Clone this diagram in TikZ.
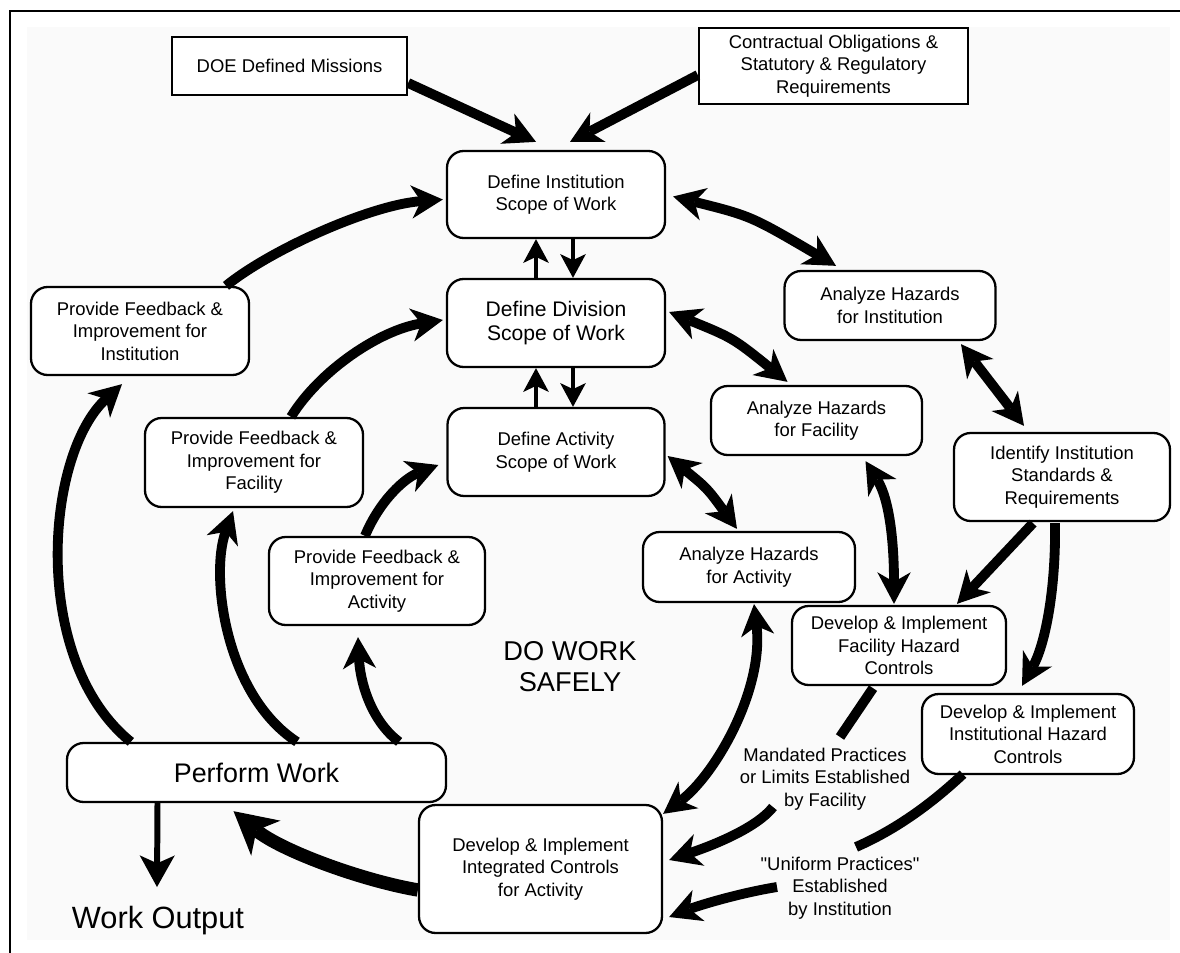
\documentclass[tikz,border=0pt]{standalone}
\usepackage{fontspec}
\setmainfont{Liberation Sans}
\newfontfamily\qfont{Liberation Sans}[Ligatures=TeXOff]
\usetikzlibrary{arrows.meta,calc}
\tikzset{
  MainTip/.tip={Stealth[length=18pt,width=19pt,inset=5.5pt,line width=0pt]},
  SmallTip/.tip={Stealth[length=13.6pt,width=14.7pt,inset=3.5pt,line width=0pt]},
  BigTip/.tip={Stealth[length=24pt,width=26pt,inset=7pt,line width=0pt]},
  OutTip/.tip={Stealth[length=18pt,width=20pt,inset=4.5pt,line width=0pt]},
  txt/.style={font=\fontsize{10.5}{12.8}\selectfont},
  box/.style={draw=black, line width=1.3pt, rounded corners=9.5pt, fill=white, align=center, inner sep=0pt, txt},
  sqbox/.style={draw=black, line width=1.3pt, fill=white, align=center, inner sep=0pt, txt},
  sz/.style 2 args={minimum width=#1*0.02cm, minimum height=#2*0.02cm},
  lbl/.style={align=center, inner sep=0pt, txt},
  arr/.style={line width=5.6pt, -MainTip},
  darr/.style={line width=5.6pt, MainTip-MainTip},
  sarr/.style={line width=2.8pt, -SmallTip},
  barr/.style={line width=7.6pt, -BigTip},
  woarr/.style={line width=3.4pt, -OutTip},
  plainline/.style={line width=5.6pt},
}
\begin{document}
\begin{tikzpicture}[x=0.02cm,y=-0.02cm]
\useasboundingbox (0,0) rectangle (1180,953);
\fill[black!2] (27,27) rectangle (1170,940);
\draw[line width=1.2pt] (10,953) -- (10,11) -- (1180,11);

% nodes
\node[sqbox,sz={235}{58}] (doe) at (289.5,66) {DOE Defined Missions};
\node[sqbox,sz={269}{76}] (contr) at (833.5,66) {Contractual Obligations \&\\Statutory \& Regulatory\\Requirements};
\node[box,sz={218}{87}] (inst) at (556,194.5) {Define Institution\\Scope of Work};
\node[box,sz={218}{88},font=\fontsize{12}{13.5}\selectfont] (div) at (556,323) {Define Division\\Scope of Work};
\node[box,sz={217}{88}] (act) at (556,452) {Define Activity\\Scope of Work};
\node[box,sz={211}{69}] (ahinst) at (890,305.5) {Analyze Hazards\\for Institution};
\node[box,sz={211}{69}] (ahfac) at (816.5,420.5) {Analyze Hazards\\for Facility};
\node[box,sz={216}{88}] (ident) at (1062,477) {Identify Institution\\Standards \&\\Requirements};
\node[box,sz={212}{70}] (ahact) at (749,567) {Analyze Hazards\\for Activity};
\node[box,sz={214}{79}] (devfac) at (899,645.5) {Develop \& Implement\\Facility Hazard\\Controls};
\node[box,sz={212}{80}] (devinst) at (1028,734) {Develop \& Implement\\Institutional Hazard\\Controls};
\node[box,sz={243}{128}] (devint) at (540.5,869) {Develop \& Implement\\Integrated Controls\\for Activity};
\node[box,sz={218}{88}] (fbinst) at (140,331) {Provide Feedback \&\\Improvement for\\Institution};
\node[box,sz={218}{89}] (fbfac) at (254,462.5) {Provide Feedback \&\\Improvement for\\Facility};
\node[box,sz={216}{88}] (fbact) at (377,581) {Provide Feedback \&\\Improvement for\\Activity};
\node[box,sz={379}{59},font=\fontsize{15.3}{18}\selectfont] (perform) at (256.5,772.5) {Perform Work};
\node[lbl,font=\fontsize{17.5}{20}\selectfont] (wout) at (158,921) {Work Output};
\node[lbl,font=\fontsize{15.5}{17.6}\selectfont] (safe) at (570,667) {DO WORK\\SAFELY};
\node[lbl] (mand) at (825,779) {Mandated Practices\\or Limits Established\\by Facility};
\node[lbl] (unif) at (840,888) {{\qfont"}Uniform Practices{\qfont"}\\Established\\by Institution};

% connectors
\draw[arr] ($(doe.east)+(0,17)$) -- ($(inst.north)+(-20,-8)$);
\draw[arr] ($(contr.west)+(0,9)$) -- ($(inst.north)+(14,-8)$);
\draw[sarr] ($(div.north)+(-20,0)$) -- ($(inst.south)+(-20,0)$);
\draw[sarr] ($(inst.south)+(17,0)$) -- ($(div.north)+(17,0)$);
\draw[sarr] ($(act.north)+(-20,0)$) -- ($(div.south)+(-20,0)$);
\draw[sarr] ($(div.south)+(17,0)$) -- ($(act.north)+(17,0)$);
\draw[darr] ($(inst.east)+(7,2)$) .. controls (751,216) .. ($(ahinst.north)+(-54,-4)$);
\draw[darr] ($(ahinst.south)+(71,3)$) -- ($(ident.north)+(-38,-6)$);
\draw[darr] ($(div.east)+(3,-11)$) .. controls (733,338) .. ($(ahfac.north)+(-29,-3)$);
\draw[darr] ($(act.east)+(2,4)$) .. controls (707,488) .. ($(ahact.north)+(-12,-2)$);
\draw[darr] ($(ahfac.south)+(49,5)$) .. controls (890,500) and (894,545) .. ($(devfac.north)+(-5,-1)$);
\draw[arr] ($(ident.south)+(-29,1)$) -- ($(devfac.north)+(58,-1)$);
\draw[arr] ($(ident.south)+(-7,1)$) .. controls (1056,590) and (1045,645) .. ($(devinst.north)+(-6,-7)$);
\draw[plainline] ($(devfac.south)+(-26,2)$) -- ($(mand.center)+(15,-42)$);
\draw[arr] ($(mand.center)+(-52,28)$) .. controls (755,830) and (705,848) .. ($(devint.east)+(6,-9)$);
\draw[plainline] ($(devinst.south)+(-65,-1)$) .. controls (930,805) and (895,830) .. ($(unif.center)+(16,-41)$);
\draw[arr] ($(unif.center)+(-63,-1)$) .. controls (740,893) and (700,905) .. ($(devint.east)+(6,48)$);
\draw[darr] ($(ahact.south)+(5,1)$) .. controls (764,690) and (715,775) .. ($(devint.north east)+(0,10)$);
\draw[barr] ($(devint.west)+(0,21)$) .. controls (360,880) and (280,850) .. ($(perform.south)+(-23,8)$);
\draw[woarr] ($(perform.south)+(-99,0)$) -- ($(wout.center)+(-1,-34)$);
\draw[arr] ($(perform.north west)+(65,0)$) .. controls (30,660) and (45,455) .. ($(fbinst.south)+(-18,8)$);
\draw[arr] ($(perform.north)+(40.5,0)$) .. controls (225,695) and (210,575) .. ($(fbfac.south)+(-21,3)$);
\draw[arr] ($(perform.north east)+(-48,0)$) .. controls (370,720) and (360,680) .. ($(fbact.south)+(-19,11)$);
\draw[arr] ($(fbinst.north)+(86,0)$) .. controls (270,250) and (370,205) .. ($(inst.west)+(-3,5)$);
\draw[arr] ($(fbfac.north)+(37,0)$) .. controls (320,370) and (380,330) .. ($(div.west)+(-3,-3)$);
\draw[arr] ($(fbact.north)+(-12,0)$) .. controls (380,500) and (405,478) .. ($(act.west)+(-8,13)$);
\end{tikzpicture}
\end{document}
